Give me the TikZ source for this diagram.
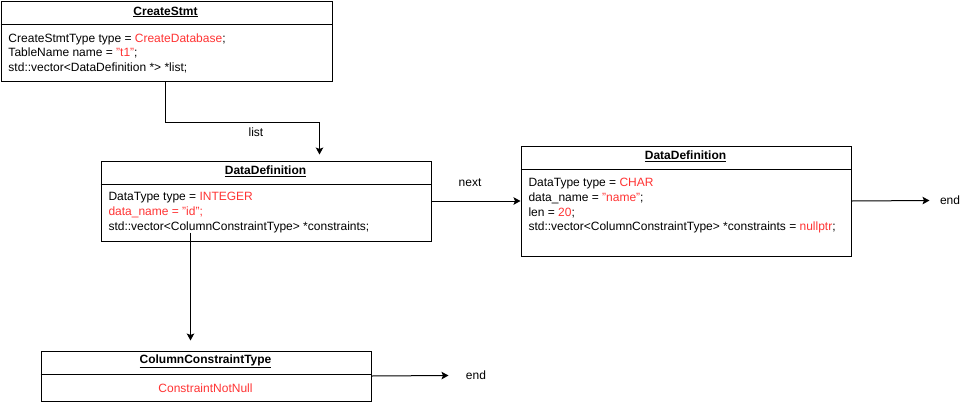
\documentclass[tikz,border=0pt]{standalone}
\usepackage{fontspec}
\setmainfont{Liberation Sans}
\usetikzlibrary{arrows.meta}
\definecolor{rd}{RGB}{255,51,51}
\begin{document}
\begin{tikzpicture}[x=1pt,y=-1pt,line width=1pt,
  box/.style={draw,rectangle,anchor=north west,inner sep=0pt},
  ttl/.style={font=\fontsize{12}{14}\selectfont\bfseries,inner sep=0pt},
  body/.style={font=\fontsize{12}{14.6}\selectfont,anchor=north west,align=left,inner sep=0pt},
  lbl/.style={font=\fontsize{12}{14}\selectfont,inner sep=0pt},
  arr/.style={-{Stealth[length=7pt,width=7.5pt,inset=1.5pt]}}]
\useasboundingbox (0,0) rectangle (971,402);

% CreateStmt
\node[box,minimum width=331pt,minimum height=80pt] (cs) at (0.5,0.5) {};
\draw ([yshift=-24pt]cs.north west) -- ([yshift=-24pt]cs.north east);
\node[ttl] (cst) at (165.5,12) {\underline{CreateStmt}};
\node[body] (csb) at (8,33) {CreateStmtType type = \textcolor{rd}{CreateDatabase};\\
TableName name = \textcolor{rd}{"t1"};\\
std::vector<DataDefinition *> *list;};

% DataDefinition 1
\node[box,minimum width=330pt,minimum height=80pt] (dd1) at (100.5,160.5) {};
\draw ([yshift=-24pt]dd1.north west) -- ([yshift=-24pt]dd1.north east);
\node[ttl] (dd1t) at (265.5,171.5) {\underline{DataDefinition}};
\node[body] (dd1b) at (108,192) {DataType type = \textcolor{rd}{INTEGER}\\
\textcolor{rd}{data\_name = "id";}\\
std::vector<ColumnConstraintType> *constraints;};

% DataDefinition 2
\node[box,minimum width=330pt,minimum height=110pt] (dd2) at (520.5,145.5) {};
\draw ([yshift=-24pt]dd2.north west) -- ([yshift=-24pt]dd2.north east);
\node[ttl] (dd2t) at (685.5,156.5) {\underline{DataDefinition}};
\node[body] (dd2b) at (528,178) {DataType type = \textcolor{rd}{CHAR}\\
data\_name = \textcolor{rd}{"name"};\\
len = \textcolor{rd}{20};\\
std::vector<ColumnConstraintType> *constraints = \textcolor{rd}{nullptr};};

% ColumnConstraintType
\node[box,minimum width=330pt,minimum height=50pt] (cc) at (40.5,350.5) {};
\draw ([yshift=-24pt]cc.north west) -- ([yshift=-24pt]cc.north east);
\node[ttl] (cct) at (205.5,361.5) {\underline{ColumnConstraintType}};
\node[lbl,text=rd] (ccb) at (205.5,388) {ConstraintNotNull};

% labels
\node[lbl] (list) at (256,132) {list};
\node[lbl] (next) at (470,183) {next};
\node[lbl,inner xsep=10pt] (end1) at (950,200.5) {end};
\node[lbl,inner xsep=17pt] (end2) at (476,375.5) {end};

% connectors
\draw[arr,shorten >=6pt] ([xshift=165pt]cs.south west) -- ++(0,41) -| ([xshift=219pt]dd1.north west);
\draw[arr] (dd1.east) -- (dd2.west);
\draw[arr] (dd2.east) -- (end1.west);
\draw[arr,shorten >=10pt] ([xshift=90pt,yshift=9pt]dd1.south west) -- ([xshift=150pt]cc.north west);
\draw[arr] (cc.east) -- (end2.west);
\end{tikzpicture}
\end{document}
